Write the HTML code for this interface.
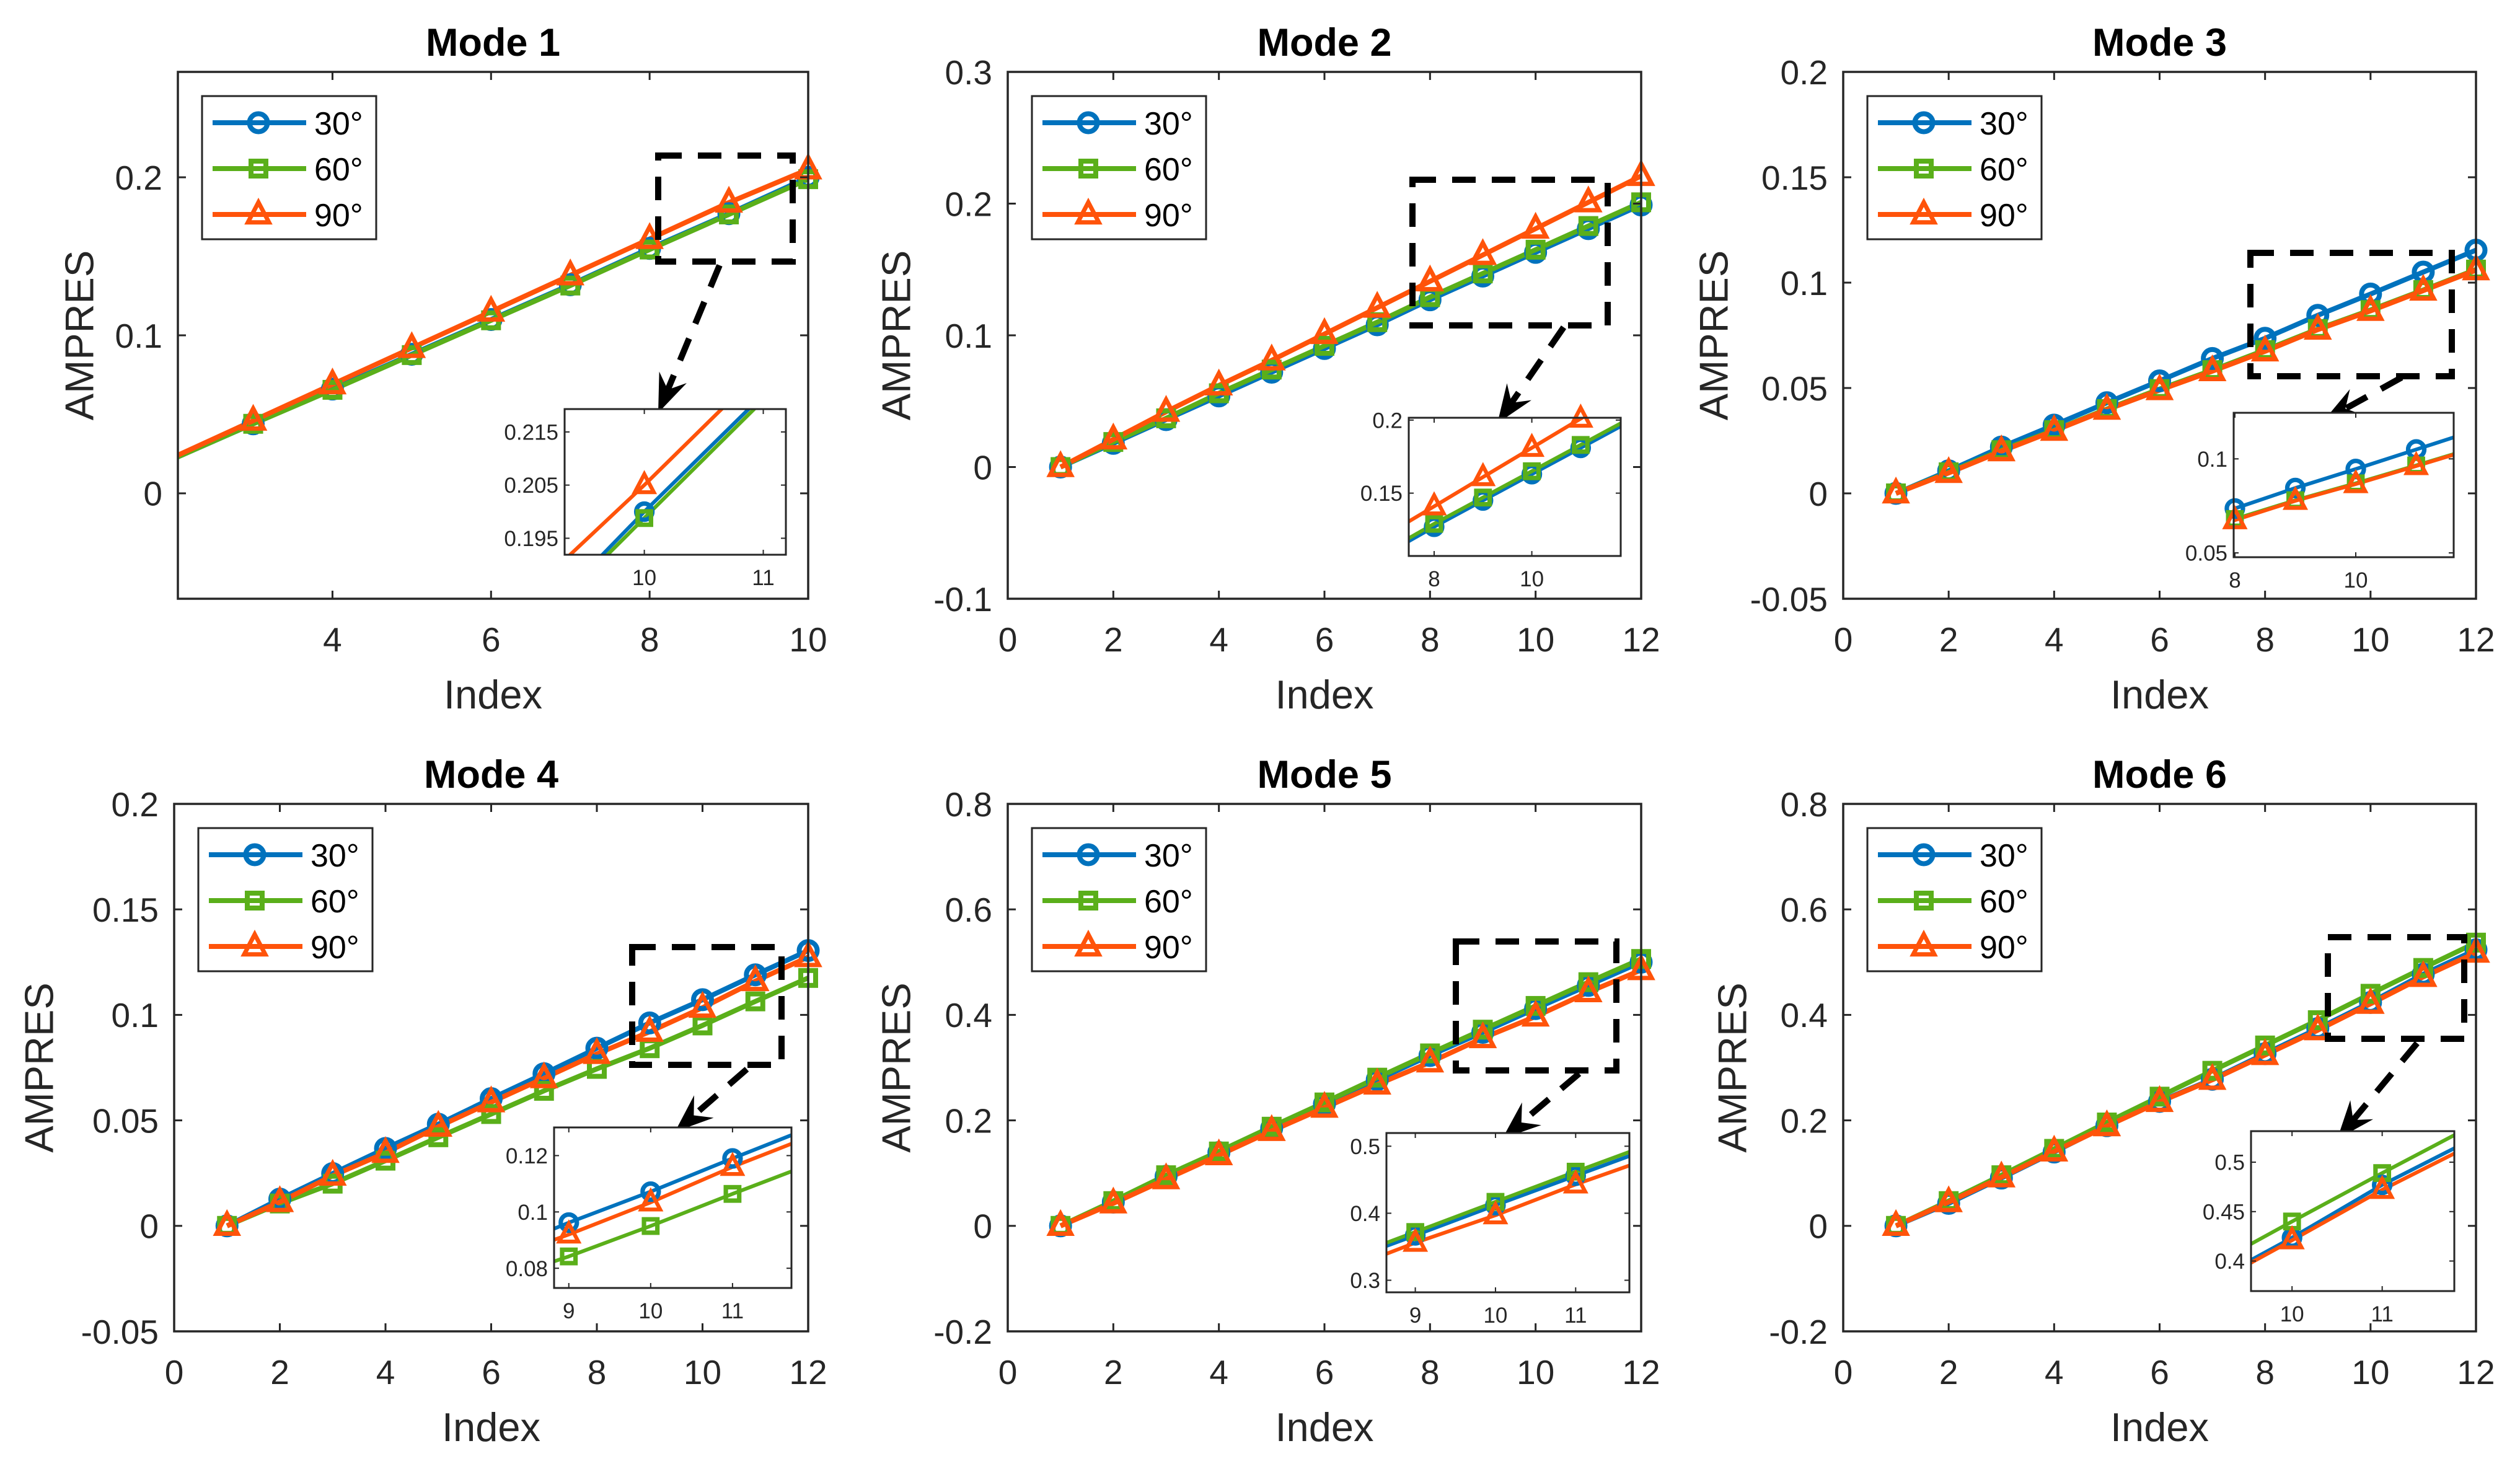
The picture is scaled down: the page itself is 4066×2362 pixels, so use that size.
<!DOCTYPE html>
<html><head><meta charset="utf-8"><style>
html,body{margin:0;padding:0;background:#fff;overflow:hidden;width:4066px;height:2362px;position:relative;}
svg{display:block;position:absolute;left:0;top:0;font-family:"Liberation Sans",Arial,sans-serif;}
</style></head><body><svg id="fig" width="4066" height="2362" viewBox="0 0 4066 2362" xmlns="http://www.w3.org/2000/svg"><rect x="0" y="0" width="4066" height="2362" fill="#fff"/></svg><script>
// ---- data ----
const legendLabels = ["30°","60°","90°"];
const m1_idx = [1,2,3,4,5,6,7,8,9,10,11];
const m1_30 = [0,0.022,0.044,0.066,0.088,0.110,0.132,0.155,0.177,0.200,0.222];
const m1_60 = [0,0.022,0.044,0.0655,0.0875,0.1095,0.1315,0.1543,0.1765,0.1988,0.221];
const m1_90 = [0,0.023,0.046,0.069,0.092,0.115,0.138,0.161,0.184,0.205,0.227];
const idx12 = [1,2,3,4,5,6,7,8,9,10,11,12];
const m2_30 = [0,0.018,0.036,0.054,0.072,0.090,0.108,0.127,0.145,0.163,0.181,0.199];
const m2_60 = [0,0.019,0.037,0.056,0.074,0.092,0.110,0.129,0.147,0.165,0.183,0.201];
const m2_90 = [0,0.021,0.042,0.062,0.081,0.101,0.121,0.141,0.161,0.181,0.201,0.221];
const m3_30 = [0,0.0107,0.022,0.0324,0.043,0.0534,0.064,0.0736,0.0845,0.0946,0.105,0.1154];
const m3_60 = [0,0.0100,0.0205,0.030,0.040,0.0495,0.0585,0.068,0.078,0.087,0.0965,0.1062];
const m3_90 = [0,0.0097,0.020,0.0297,0.0397,0.049,0.058,0.0674,0.0777,0.0866,0.0962,0.1059];
const m4_30 = [0,0.0127,0.0248,0.0367,0.0482,0.0603,0.0721,0.0842,0.0962,0.1072,0.119,0.1305];
const m4_60 = [0,0.0106,0.020,0.0309,0.042,0.053,0.064,0.0744,0.0842,0.095,0.1064,0.1175];
const m4_90 = [0,0.0113,0.0238,0.0346,0.047,0.0586,0.070,0.0815,0.092,0.1034,0.116,0.1274];
const m5_30 = [0,0.045,0.094,0.139,0.185,0.231,0.277,0.323,0.367,0.412,0.456,0.500];
const m5_60 = [0,0.047,0.096,0.141,0.188,0.234,0.281,0.327,0.372,0.417,0.462,0.506];
const m5_90 = [0,0.0426,0.0885,0.134,0.180,0.224,0.268,0.310,0.356,0.397,0.443,0.485];
const m6_30 = [0,0.0426,0.0907,0.140,0.190,0.236,0.278,0.3265,0.374,0.4236,0.477,0.5234];
const m6_60 = [0,0.047,0.096,0.146,0.196,0.245,0.294,0.342,0.390,0.440,0.489,0.537];
const m6_90 = [0,0.045,0.092,0.141,0.189,0.235,0.277,0.324,0.371,0.421,0.472,0.518];

const xt12 = [0,2,4,6,8,10,12];
const m1_xticks = [4,6,8,10];
const m1_yticks = [0,0.1,0.2];
const m2_yticks = [-0.1,0,0.1,0.2,0.3];
const m3_yticks = [-0.05,0,0.05,0.1,0.15,0.2];
const m5_yticks = [-0.2,0,0.2,0.4,0.6,0.8];
const i1_xticks = [10,11], i1_yticks = [0.195,0.205,0.215];
const i2_xticks = [8,10], i2_yticks = [0.15,0.2];
const i3_xticks = [8,10], i3_yticks = [0.05,0.1];
const i4_xticks = [9,10,11], i4_yticks = [0.08,0.1,0.12];
const i5_xticks = [9,10,11], i5_yticks = [0.3,0.4,0.5];
const i6_xticks = [10,11], i6_yticks = [0.4,0.45,0.5];

// ---- layout (not data) ----
const COLORS = ["#0072BD","#5AAF1A","#FF530A"];
const SHAPES = ["circle","square","triangle"];
const panels = [
 {title:"Mode 1",L:287,R:1304,T:116,B:966,xlim:[2.05,10],ylim:[-0.0667,0.2667],xt:m1_xticks,yt:m1_yticks,x:m1_idx,s:[m1_30,m1_60,m1_90],ylx:-160,
  zoom:[1062,251,1279,422],arrow:[1161,428,1062,666],inset:{L:911,T:660,R:1268,B:895,xlim:[9.33,11.19],ylim:[0.1919,0.2193],xt:i1_xticks,yt:i1_yticks}},
 {title:"Mode 2",L:1626,R:2648,T:116,B:966,xlim:[0,12],ylim:[-0.1,0.3],xt:xt12,yt:m2_yticks,x:idx12,s:[m2_30,m2_60,m2_90],ylx:-181,
  zoom:[2279,290,2594,525],arrow:[2523,528,2416,683],inset:{L:2273,T:674,R:2615,B:897,xlim:[7.48,11.82],ylim:[0.107,0.2016],xt:i2_xticks,yt:i2_yticks}},
 {title:"Mode 3",L:2974,R:3995,T:116,B:966,xlim:[0,12],ylim:[-0.05,0.2],xt:xt12,yt:m3_yticks,x:idx12,s:[m3_30,m3_60,m3_90],ylx:-210,
  zoom:[3631,408,3956,607],arrow:[3875,609,3749,679],inset:{L:3604,T:666,R:3959,B:899,xlim:[7.98,11.62],ylim:[0.0477,0.1245],xt:i3_xticks,yt:i3_yticks}},
 {title:"Mode 4",L:281,R:1304,T:1297,B:2148,xlim:[0,12],ylim:[-0.05,0.2],xt:xt12,yt:m3_yticks,x:idx12,s:[m4_30,m4_60,m4_90],ylx:-219,
  zoom:[1020,1528,1261,1718],arrow:[1205,1725,1089,1826],inset:{L:894,T:1819,R:1277,B:2078,xlim:[8.82,11.72],ylim:[0.073,0.13],xt:i4_xticks,yt:i4_yticks}},
 {title:"Mode 5",L:1626,R:2648,T:1297,B:2148,xlim:[0,12],ylim:[-0.2,0.8],xt:xt12,yt:m5_yticks,x:idx12,s:[m5_30,m5_60,m5_90],ylx:-181,
  zoom:[2349,1519,2608,1727],arrow:[2548,1732,2424,1837],inset:{L:2237,T:1828,R:2629,B:2085,xlim:[8.64,11.67],ylim:[0.282,0.5197],xt:i5_xticks,yt:i5_yticks}},
 {title:"Mode 6",L:2974,R:3995,T:1297,B:2148,xlim:[0,12],ylim:[-0.2,0.8],xt:xt12,yt:m5_yticks,x:idx12,s:[m6_30,m6_60,m6_90],ylx:-180,
  zoom:[3756,1512,3976,1676],arrow:[3900,1683,3771,1838],inset:{L:3632,T:1825,R:3960,B:2083,xlim:[9.545,11.80],ylim:[0.3696,0.5314],xt:i6_xticks,yt:i6_yticks}}
];

const NS = "http://www.w3.org/2000/svg";
const svg = document.getElementById("fig");
function mk(tag, attrs, parent){
  const e = document.createElementNS(NS, tag);
  for (const k in attrs) e.setAttribute(k, attrs[k]);
  parent.appendChild(e);
  return e;
}
function fmt(v){ return String(v); }
function scaler(d0,d1,r0,r1){ return v => r0 + (v-d0)/(d1-d0)*(r1-r0); }

function marker(g, shape, cx, cy, color, k, name){
  let e;
  if (shape==="circle"){
    e = mk("circle",{cx:cx,cy:cy,r:14.5*k,fill:"none",stroke:color,"stroke-width":8*k},g);
  } else if (shape==="square"){
    const s=24*k;
    e = mk("rect",{x:cx-s/2,y:cy-s/2,width:s,height:s,fill:"none",stroke:color,"stroke-width":8*k},g);
  } else {
    const h=17*k, w=17*k;
    e = mk("path",{d:`M${cx},${cy-h*1.15} L${cx+w},${cy+h*0.75} L${cx-w},${cy+h*0.75} Z`,fill:"none",stroke:color,"stroke-width":7*k,"stroke-linejoin":"miter"},g);
  }
  
  
}

function drawAxes(g, ax, xs, ys, opts, pname){
  const tl = opts.tickLen;
  ax.xt.forEach(v=>{
    const x = xs(v);
    const t1 = mk("line",{x1:x,y1:ax.B,x2:x,y2:ax.B-tl,stroke:"#262626","stroke-width":opts.tw},g);
    
    
    const t2 = mk("line",{x1:x,y1:ax.T,x2:x,y2:ax.T+tl,stroke:"#262626","stroke-width":opts.tw},g);
    
    
    const lb = mk("text",{x:x,y:ax.B+opts.xlOff,"text-anchor":"middle","font-size":opts.fs,fill:"#262626"},g);
    lb.textContent = fmt(v);
    
    
  });
  ax.yt.forEach(v=>{
    const y = ys(v);
    const t1 = mk("line",{x1:ax.L,y1:y,x2:ax.L+tl,y2:y,stroke:"#262626","stroke-width":opts.tw},g);
    
    
    const t2 = mk("line",{x1:ax.R,y1:y,x2:ax.R-tl,y2:y,stroke:"#262626","stroke-width":opts.tw},g);
    
    
    const lb = mk("text",{x:ax.L-opts.ylOff,y:y+opts.fs*0.36,"text-anchor":"end","font-size":opts.fs,fill:"#262626"},g);
    lb.textContent = fmt(v);
    
    
  });
}

function drawSeries(g, ax, xs, ys, xv, series, opts, pname, clipId){
  const lg = mk("g",{"clip-path":`url(#${clipId})`},g);
  
  
  series.forEach((vals,si)=>{
    const pts = xv.map((x,i)=>xs(x).toFixed(1)+","+ys(vals[i]).toFixed(1)).join(" ");
    const pl = mk("polyline",{points:pts,fill:"none",stroke:COLORS[si],"stroke-width":opts.lw,"stroke-linejoin":"round"},lg);
    
    
  });
  series.forEach((vals,si)=>{
    const mg = mk("g",{},g);
    
    
    xv.forEach((x,i)=>{
      const v = vals[i];
      if (x < ax.xlim[0]-1e-9 || x > ax.xlim[1]+1e-9 || v < ax.ylim[0] || v > ax.ylim[1]) return;
      marker(mg, SHAPES[si], xs(x), ys(v), COLORS[si], opts.mk, pname+'-point');
    });
  });
}

const defs = mk("defs",{},svg);
panels.forEach((p,pi)=>{
  const pname = "mode"+(pi+1);
  const g = mk("g",{},svg);
  
  
  const xs = scaler(p.xlim[0],p.xlim[1],p.L,p.R);
  const ys = scaler(p.ylim[0],p.ylim[1],p.B,p.T);
  const cp = mk("clipPath",{id:"clip"+pi},defs);
  mk("rect",{x:p.L,y:p.T,width:p.R-p.L,height:p.B-p.T},cp);

  const title = mk("text",{x:(p.L+p.R)/2,y:p.T-26,"text-anchor":"middle","font-size":63,"font-weight":"bold",fill:"#000"},g);
  title.textContent = p.title;
  
  

  drawSeries(g,p,xs,ys,p.x,p.s,{lw:8,mk:1},pname,"clip"+pi);
  drawAxes(g,p,xs,ys,{tickLen:13,tw:3,fs:55,xlOff:85,ylOff:25},pname);
  const frame = mk("rect",{x:p.L,y:p.T,width:p.R-p.L,height:p.B-p.T,fill:"none",stroke:"#262626","stroke-width":3.5},g);
  
  

  const xl = mk("text",{x:(p.L+p.R)/2,y:p.B+177,"text-anchor":"middle","font-size":65,fill:"#262626"},g);
  xl.textContent = "Index";
  
  
  const cy = (p.T+p.B)/2, cx = p.L+p.ylx;
  const yl = mk("text",{x:0,y:0,transform:`translate(${cx},${cy}) rotate(-90)`,dy:"0.36em","text-anchor":"middle","font-size":65,fill:"#262626"},g);
  yl.textContent = "AMPRES";
  
  

  const lgd = mk("g",{},g);
  
  
  const LX = p.L+39, LY = p.T+39;
  const lb = mk("rect",{x:LX,y:LY,width:281,height:231,fill:"#fff",stroke:"#262626","stroke-width":3},lgd);
  
  
  [43,117,191].forEach((dy,si)=>{
    const ey = LY+dy;
    const ln = mk("line",{x1:LX+17,y1:ey,x2:LX+168,y2:ey,stroke:COLORS[si],"stroke-width":8},lgd);
    
    
    marker(lgd, SHAPES[si], LX+91, ey, COLORS[si], 1, pname+'-legend-marker');
    const tx = mk("text",{x:LX+181,y:ey+19,"font-size":52,fill:"#000"},lgd);
    tx.textContent = legendLabels[si];
    
    
  });

  const z = p.zoom;
  const zr = mk("rect",{x:z[0],y:z[1],width:z[2]-z[0],height:z[3]-z[1],fill:"none",stroke:"#000","stroke-width":10,"stroke-dasharray":"38 26"},g);
  
  
  const a = p.arrow;
  const dx = a[2]-a[0], dyy = a[3]-a[1], len = Math.hypot(dx,dyy);
  const ux = dx/len, uy = dyy/len, nx = -uy, ny = ux;
  const HL = 62, HW = 48;
  const bx = a[2]-ux*HL*0.65, by = a[3]-uy*HL*0.65;
  const al = mk("line",{x1:a[0],y1:a[1],x2:bx,y2:by,stroke:"#000","stroke-width":10,"stroke-dasharray":"38 26"},g);
  
  
  const p1x=a[2]-ux*HL+nx*HW/2, p1y=a[3]-uy*HL+ny*HW/2;
  const p2x=a[2]-ux*HL-nx*HW/2, p2y=a[3]-uy*HL-ny*HW/2;
  const ah = mk("path",{d:`M${a[2]},${a[3]} L${p1x},${p1y} L${bx},${by} L${p2x},${p2y} Z`,fill:"#000"},g);
  
  

  const I = p.inset;
  const ig = mk("g",{},g);
  
  
  const ibg = mk("rect",{x:I.L,y:I.T,width:I.R-I.L,height:I.B-I.T,fill:"#fff"},ig);
  
  
  const ixs = scaler(I.xlim[0],I.xlim[1],I.L,I.R);
  const iys = scaler(I.ylim[0],I.ylim[1],I.B,I.T);
  const icp = mk("clipPath",{id:"iclip"+pi},defs);
  mk("rect",{x:I.L,y:I.T,width:I.R-I.L,height:I.B-I.T},icp);
  drawSeries(ig,I,ixs,iys,p.x,p.s,{lw:6,mk:0.9},pname+'-inset',"iclip"+pi);
  drawAxes(ig,I,ixs,iys,{tickLen:8,tw:2,fs:35,xlOff:49,ylOff:10},pname+'-inset');
  const ifr = mk("rect",{x:I.L,y:I.T,width:I.R-I.L,height:I.B-I.T,fill:"none",stroke:"#262626","stroke-width":3},ig);
  
  
});
</script></body></html>
